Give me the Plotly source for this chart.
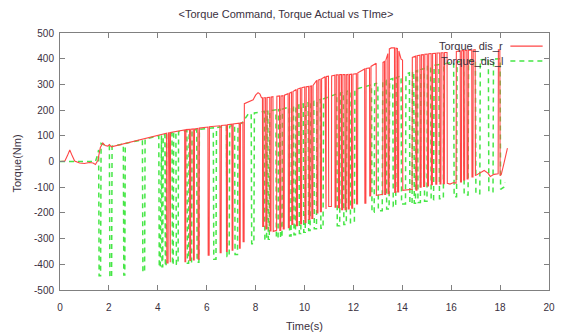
import plotly.graph_objects as go

# ---- data (time [s], torque [Nm]) ----
torque_dis_r = [
    (0.00, 0), (0.20, 2), (0.30, 22), (0.40, 45), (0.50, 22), (0.60, 2), (0.80, -6), (1.00, -8),
    (1.20, -4), (1.35, -6), (1.45, -12), (1.55, 5), (1.65, 55), (1.75, 72), (1.85, 62), (1.95, 60),
    (2.02, 66), (2.10, 57),
    (4.36, 110), (4.37, -395), (4.42, -395), (4.43, 111), (4.47, 112), (4.48, -392), (4.51, -392), (4.52, 113),
    (5.10, 123), (5.11, -390), (5.14, -390), (5.15, 124),
    (5.30, 125), (5.31, -385), (5.34, -385), (5.35, 126),
    (5.45, 127), (5.46, -383), (5.49, -383), (5.50, 127),
    (5.64, 129), (5.65, -380), (5.69, -380), (5.70, 130),
    (6.05, 134), (6.06, -365), (6.10, -365), (6.11, 135),
    (6.54, 139), (6.55, -355), (6.59, -355), (6.60, 140),
    (6.80, 142), (6.81, -350), (6.84, -350), (6.85, 143),
    (7.03, 145), (7.04, -345), (7.07, -345), (7.08, 146),
    (7.33, 149), (7.34, -337), (7.37, -337), (7.38, 150),
    (7.48, 152), (7.49, -312), (7.53, -312), (7.54, 225),
    (7.90, 240), (8.00, 258), (8.10, 268), (8.18, 262), (8.24, 248),
    (8.28, 248), (8.29, -253), (8.33, -253), (8.34, 248),
    (8.41, 248), (8.42, -262), (8.46, -262), (8.47, 249),
    (8.58, 250), (8.59, -270), (8.63, -270), (8.64, 251),
    (8.71, 252), (8.72, -272), (8.86, -268), (8.87, 254),
    (8.98, 255), (8.99, -268), (9.03, -268), (9.04, 255),
    (9.12, 256), (9.13, -262), (9.17, -262), (9.18, 258),
    (9.33, 264), (9.34, -258), (9.38, -258), (9.39, 266),
    (9.47, 270), (9.48, -245), (9.52, -245), (9.53, 272),
    (9.66, 280), (9.67, -250), (9.71, -250), (9.72, 282),
    (9.83, 286), (9.84, -242), (9.88, -242), (9.89, 287),
    (10.01, 290), (10.02, -238), (10.06, -238), (10.07, 291),
    (10.17, 292), (10.18, -225), (10.22, -225), (10.23, 293),
    (10.29, 294), (10.30, -222), (10.34, -222), (10.35, 296),
    (10.50, 316), (10.51, -200), (10.55, -200), (10.56, 317),
    (10.64, 320), (10.65, -195), (10.69, -195), (10.70, 322),
    (10.84, 330), (10.85, -185), (10.88, -185), (10.89, 331),
    (10.98, 332), (10.99, -175), (11.10, -175), (11.11, 333),
    (11.24, 336), (11.25, -178), (11.29, -178), (11.30, 337),
    (11.38, 337), (11.39, -180), (11.43, -180), (11.44, 338),
    (11.51, 338), (11.52, -188), (11.56, -188), (11.57, 338),
    (11.65, 338), (11.66, -188), (11.70, -188), (11.71, 338),
    (11.78, 339), (11.79, -185), (11.83, -185), (11.84, 339),
    (11.92, 340), (11.93, -182), (11.97, -182), (11.98, 340),
    (12.12, 342), (12.13, -165), (12.17, -165), (12.18, 345),
    (12.46, 360), (12.47, -162), (12.51, -162), (12.52, 362),
    (12.66, 364), (12.67, -135), (12.71, -132), (12.72, 370),
    (12.93, 382), (12.94, -132), (13.20, -128), (13.21, 386),
    (13.27, 389), (13.28, -128), (13.32, -128), (13.33, 395),
    (13.41, 420), (13.42, -125), (13.46, -125), (13.47, 438),
    (13.55, 442), (13.68, 442), (13.69, -120), (13.73, -120), (13.74, 441),
    (13.80, 440), (13.81, -118), (13.85, -118), (13.86, 430),
    (13.95, 398), (14.01, 395), (14.02, -112), (14.40, -108), (14.41, 405),
    (14.55, 410), (14.56, -112), (14.60, -112), (14.61, 412),
    (14.72, 414), (14.73, -100), (14.77, -100), (14.78, 415),
    (14.86, 416), (14.87, -97), (14.91, -97), (14.92, 417),
    (15.02, 418), (15.03, -95), (15.07, -95), (15.08, 419),
    (15.18, 420), (15.19, -90), (15.23, -90), (15.24, 420),
    (15.36, 421), (15.37, -88), (15.41, -88), (15.42, 422),
    (15.53, 422), (15.54, -87), (15.58, -87), (15.59, 423),
    (15.67, 423), (15.68, -86), (15.72, -86), (15.73, 424),
    (15.83, 424), (15.84, -85), (15.95, -88), (16.10, -82), (16.20, -85), (16.21, 428),
    (16.37, 430), (16.38, -80), (16.42, -80), (16.43, 431),
    (16.50, 432), (16.51, -72), (16.55, -72), (16.56, 432),
    (16.64, 433), (16.65, -68), (16.69, -68), (16.70, 433),
    (16.84, 434), (16.85, -60), (16.89, -60), (16.90, 434),
    (16.98, 435), (16.99, -55), (17.10, -48), (17.25, -38), (17.35, -35), (17.50, -45),
    (17.60, -58), (17.75, -50), (17.92, -48), (17.93, 435), (17.99, 435), (18.00, -55),
    (18.05, -50), (18.15, -10), (18.30, 52),
]

torque_dis_l = [
    (0.00, 0), (0.50, 0), (1.00, 0), (1.30, -2), (1.45, 0), (1.55, 30),
    (1.58, 45), (1.60, -445), (1.66, -445), (1.68, 70),
    (1.80, 65), (2.02, 60), (2.04, -450), (2.11, -450), (2.13, 60),
    (2.59, 68), (2.61, -442), (2.65, -442), (2.67, 70),
    (3.37, 85), (3.39, -430), (3.46, -430), (3.48, 87),
    (4.04, 100), (4.06, -412), (4.10, -412), (4.12, 102), (4.15, 102), (4.17, -410), (4.20, -410), (4.22, 104),
    (4.29, 105), (4.31, -408), (4.34, -408), (4.36, 106),
    (4.58, 111), (4.60, -402), (4.63, -402), (4.65, 112),
    (4.74, 114), (4.76, -400), (4.83, -400), (4.85, 116),
    (5.19, 120), (5.21, -396), (5.26, -396), (5.28, 121), (5.32, 121), (5.34, -395), (5.38, -395), (5.40, 122),
    (5.59, 124), (5.61, -392), (5.68, -392), (5.70, 125),
    (6.27, 131), (6.29, -380), (6.38, -380), (6.40, 132),
    (6.81, 137), (6.83, -370), (6.92, -370), (6.94, 138),
    (7.14, 141), (7.16, -362), (7.26, -362), (7.28, 143),
    (7.45, 150), (7.70, 185),
    (7.82, 187), (7.84, -320), (7.93, -320), (7.95, 189),
    (8.36, 195), (8.38, -305), (8.45, -305), (8.47, 196), (8.50, 196), (8.52, -303), (8.56, -303), (8.58, 197),
    (8.83, 201), (8.85, -298), (8.92, -298), (8.94, 202), (9.00, 203), (9.02, -296), (9.08, -296), (9.10, 204),
    (9.37, 212), (9.39, -290), (9.45, -290), (9.47, 214), (9.55, 216), (9.57, -285), (9.63, -285), (9.65, 218),
    (9.77, 220), (9.79, -280), (9.85, -280), (9.87, 222), (9.95, 224), (9.97, -275), (10.03, -275), (10.05, 226),
    (10.15, 228), (10.17, -268), (10.23, -268), (10.25, 231),
    (10.38, 234), (10.40, -262), (10.49, -262), (10.51, 238),
    (10.65, 241), (10.67, -260), (10.76, -260), (10.78, 244),
    (11.32, 263), (11.34, -250), (11.44, -250), (11.46, 266),
    (11.59, 270), (11.61, -245), (11.71, -245), (11.73, 273),
    (11.86, 276), (11.88, -238), (12.04, -238), (12.06, 281),
    (12.74, 298), (12.76, -197), (12.85, -197), (12.87, 302),
    (13.00, 305), (13.02, -192), (13.18, -192), (13.20, 311),
    (13.34, 315), (13.36, -185), (13.46, -185), (13.48, 319),
    (13.61, 323), (13.63, -175), (13.73, -175), (13.75, 327),
    (13.95, 333), (13.97, -165), (14.13, -165), (14.15, 340),
    (14.29, 345), (14.31, -163), (14.40, -163), (14.42, 349), (14.47, 350), (14.49, -162), (14.54, -162), (14.56, 352),
    (14.62, 354), (14.64, -160), (14.74, -160), (14.76, 358),
    (14.89, 362), (14.91, -155), (15.01, -155), (15.03, 370),
    (15.16, 372), (15.18, -150), (15.28, -150), (15.30, 374),
    (15.50, 377), (15.52, -145), (15.68, -145), (15.70, 380),
    (16.10, 386), (16.12, -137), (16.22, -137), (16.24, 387),
    (16.51, 390), (16.53, -130), (16.69, -130), (16.71, 392),
    (16.99, 395), (17.01, -125), (17.17, -125), (17.19, 396),
    (17.52, 398), (17.54, -118), (17.71, -118), (17.73, 399),
    (18.00, 400), (18.02, -108), (18.15, -100), (18.20, -82),
]

series_names = ["Torque_dis_r", "Torque_dis_l"]
x_ticks = [0, 2, 4, 6, 8, 10, 12, 14, 16, 18, 20]
y_ticks = [-500, -400, -300, -200, -100, 0, 100, 200, 300, 400, 500]

title_text = "&lt;Torque Command, Torque Actual vs TIme&gt;"
x_title = "Time(s)"
y_title = "Torque(Nm)"

# ---- styles ----
RED = "rgb(255,70,70)"
GREEN = "rgb(70,230,70)"
TEXT = "#3a3040"
AXIS = "#808080"
FONT = "Liberation Sans, Arial, sans-serif"

fig = go.Figure()
fig.add_trace(go.Scatter(
    x=[p[0] for p in torque_dis_l], y=[p[1] for p in torque_dis_l],
    mode="lines", name=series_names[1], line=dict(color=GREEN, width=1.5, dash="5px,4px"),
    showlegend=False, hoverinfo="skip"))
fig.add_trace(go.Scatter(
    x=[p[0] for p in torque_dis_r], y=[p[1] for p in torque_dis_r],
    mode="lines", name=series_names[0], line=dict(color=RED, width=1.1),
    showlegend=False, hoverinfo="skip"))

axis_common = dict(showline=True, linecolor=AXIS, linewidth=1, mirror="ticks",
                   ticks="inside", ticklen=5, tickcolor=AXIS, showgrid=False,
                   zeroline=False, tickfont=dict(family=FONT, size=10, color=TEXT))

fig.update_xaxes(range=[0, 20], tickvals=x_ticks, ticktext=[str(v) for v in x_ticks],
                 ticklabelstandoff=8, **axis_common)
fig.update_yaxes(range=[-500, 500], tickvals=y_ticks, ticktext=[str(v) for v in y_ticks],
                 ticklabelstandoff=3, **axis_common)

fig.update_layout(
    width=563, height=333,
    margin=dict(l=60, r=8, t=33, b=43),
    paper_bgcolor="white", plot_bgcolor="white",
    title=dict(text=title_text, x=0.508, xref="container", xanchor="center",
               y=1 - 14 / 333, yref="container", yanchor="middle",
               font=dict(family=FONT, size=11, color=TEXT)),
    font=dict(family=FONT, size=11, color=TEXT),
)

# axis titles
fig.add_annotation(text=y_title, xref="paper", yref="paper", x=-0.087, y=0.494,
                   textangle=-90, showarrow=False, xanchor="center", yanchor="middle",
                   font=dict(family=FONT, size=11, color=TEXT))
fig.add_annotation(text=x_title, xref="paper", yref="paper", x=0.499, y=-0.14,
                   showarrow=False, xanchor="center", yanchor="middle",
                   font=dict(family=FONT, size=11, color=TEXT))

# legend (text left, sample right, as in the reference)
legend_rows = [(series_names[0], RED, "solid", 1.2, 0.949),
               (series_names[1], GREEN, "5px,4px", 1.5, 0.891)]
for name, col, dash, w, yy in legend_rows:
    fig.add_annotation(text=name, xref="paper", yref="paper", x=0.909, y=yy,
                       showarrow=False, xanchor="right", yanchor="middle",
                       font=dict(family=FONT, size=11, color=TEXT))
    fig.add_shape(type="line", xref="paper", yref="paper", x0=0.921, x1=0.987, y0=yy, y1=yy,
                  line=dict(color=col, width=w, dash=dash))

fig.write_html("out.html", config={"displayModeBar": False},
               post_script="document.body.style.margin='0px';")
